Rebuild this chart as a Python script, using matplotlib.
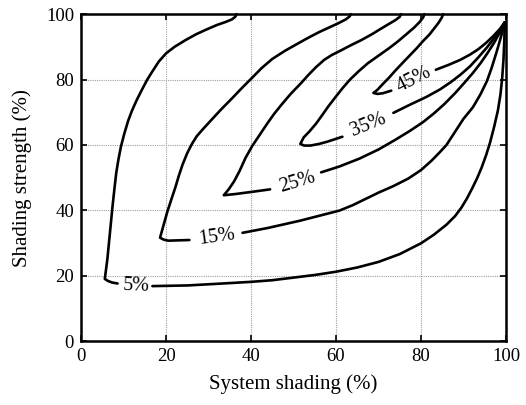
import numpy as np
import matplotlib
matplotlib.use("Agg")
import matplotlib.pyplot as plt

nan = np.nan

# Contour lines (System shading %, Shading strength %); NaN = gap for inline label
c5_x = [36.6, 36.3, 35.5, 34.0, 32.0, 29.5, 27.0, 24.5, 22.0, 20.0, 18.3, 16.8, 15.6, 14.3, 13.1, 12.0, 11.1,
        10.2, 9.4, 8.8, 8.3, 7.9, 7.4, 6.8, 6.2, 5.6, 6.3, 7.3, 8.6, nan,
        16.8, 25.0, 32.0, 40.0, 45.0, 50.0, 55.0, 60.0, 65.0, 70.0, 75.0, 80.0, 83.0, 86.0, 88.0, 89.5,
        90.8, 92.0, 93.2, 94.3, 95.3, 96.2, 97.2, 98.1, 98.7, 99.1, 99.4, 99.6, 99.7]
c5_y = [100.0, 99.2, 98.4, 97.6, 96.7, 95.3, 93.8, 92.0, 90.0, 88.0, 85.5, 82.5, 80.0, 76.8, 73.7, 70.5, 67.4,
        63.5, 59.5, 55.5, 51.5, 47.0, 41.0, 33.0, 25.0, 19.0, 18.4, 17.9, 17.6, nan,
        16.8, 17.0, 17.5, 18.1, 18.6, 19.4, 20.2, 21.2, 22.5, 24.2, 26.6, 29.9, 32.5, 35.6, 38.2, 40.8,
        43.6, 46.6, 49.8, 53.2, 56.8, 60.5, 65.5, 70.6, 75.5, 80.5, 86.0, 92.0, 97.5]

c15_x = [63.5, 63.2, 62.3, 60.5, 58.5, 56.0, 53.5, 51.0, 48.0, 45.0, 42.5, 40.3, 38.0, 35.5, 33.0, 30.5, 28.6,
         27.2, 26.1, 25.0, 23.9, 23.0, 22.2, 21.3, 20.3, 19.5, 18.6, 19.5, 20.5, 23.0, 25.5, nan,
         38.0, 44.0, 51.5, 56.0, 60.8, 64.0, 67.0, 70.0, 73.5, 77.0, 80.0, 82.5, 84.3, 86.0, 88.0, 90.0,
         92.2, 94.0, 95.5, 96.6, 97.8, 98.8, 99.7]
c15_y = [100.0, 99.3, 98.4, 97.2, 96.0, 94.5, 92.8, 91.0, 88.8, 86.3, 83.5, 80.6, 77.6, 74.2, 70.9, 67.4, 64.7,
         62.6, 60.3, 57.5, 54.0, 50.5, 47.0, 43.5, 39.5, 35.8, 31.6, 31.0, 30.7, 30.8, 30.9, nan,
         33.1, 34.6, 36.8, 38.3, 39.9, 41.6, 43.5, 45.4, 47.4, 49.7, 52.3, 55.2, 57.6, 60.0, 64.0, 68.0,
         71.5, 75.5, 79.5, 83.5, 88.5, 93.0, 97.5]

c25_x = [75.3, 75.0, 74.0, 72.3, 70.5, 68.5, 66.0, 63.5, 61.0, 59.0, 57.2, 55.3, 53.5, 51.7, 49.4, 47.3, 45.5,
         43.8, 42.0, 40.3, 38.7, 37.3, 36.0, 34.8, 33.6, 36.5, 40.0, 44.5, nan,
         56.5, 60.8, 65.5, 70.0, 74.0, 77.4, 80.5, 83.0, 85.5, 88.0, 90.2, 92.2, 94.0, 95.7, 97.3, 98.6, 99.7]
c25_y = [100.0, 99.2, 98.2, 96.9, 95.5, 93.9, 92.1, 90.5, 88.8, 87.5, 86.0, 83.8, 81.4, 78.8, 75.7, 72.5, 69.6,
         66.5, 63.0, 59.7, 56.0, 52.0, 48.8, 46.5, 44.6, 45.0, 45.6, 46.4, nan,
         51.6, 53.4, 55.8, 58.6, 61.6, 64.3, 67.0, 69.6, 72.5, 75.8, 79.0, 82.0, 85.0, 88.2, 91.5, 94.5, 97.5]

c35_x = [80.8, 80.5, 79.6, 78.3, 76.5, 74.5, 72.5, 70.0, 67.5, 65.3, 63.3, 61.5, 59.8, 58.2, 56.8, 55.3, 53.8,
         52.4, 51.6, 52.5, 54.0, 56.0, 58.0, 61.5, nan,
         73.5, 77.4, 81.3, 84.5, 87.0, 89.3, 91.5, 93.5, 95.5, 97.3, 98.7, 99.7]
c35_y = [100.0, 99.0, 97.5, 95.8, 93.8, 91.6, 89.6, 87.3, 85.0, 82.5, 80.0, 77.3, 74.5, 71.8, 69.2, 66.5, 64.2,
         62.3, 60.3, 59.8, 59.8, 60.3, 61.0, 62.5, nan,
         69.8, 72.3, 74.7, 77.0, 79.2, 81.5, 84.0, 86.8, 89.8, 92.8, 95.3, 97.5]

c45_x = [85.2, 84.9, 84.2, 83.2, 82.0, 80.5, 79.0, 77.3, 75.6, 74.0, 72.5, 71.0, 69.7, 68.8, 69.8, 71.0, 73.0, nan,
         83.5, 86.5, 89.2, 91.5, 93.5, 95.3, 97.0, 98.5, 99.7]
c45_y = [100.0, 99.0, 97.5, 95.8, 93.8, 91.8, 89.6, 87.3, 85.0, 82.8, 80.6, 78.6, 76.8, 75.9, 75.6, 75.8, 76.6, nan,
         83.0, 84.5, 86.0, 87.6, 89.3, 91.2, 93.3, 95.4, 97.5]

contours_x = [c5_x, c15_x, c25_x, c35_x, c45_x]
contours_y = [c5_y, c15_y, c25_y, c35_y, c45_y]

label_text = ["5%", "15%", "25%", "35%", "45%"]
label_x = [13.1, 31.9, 51.0, 67.6, 78.3]
label_y = [16.8, 31.9, 48.6, 66.0, 80.0]
label_rot = [-2, 8, 17, 22, 27]

x_ticks = [0, 20, 40, 60, 80, 100]
y_ticks = [0, 20, 40, 60, 80, 100]

plt.rcParams['font.family'] = ['Liberation Serif', 'DejaVu Serif']

fig = plt.figure(figsize=(5.26, 4.05), dpi=100)
ax = fig.add_axes([0.154, 0.158, 0.808, 0.807])

for xs, ys in zip(contours_x, contours_y):
    ax.plot(xs, ys, color='black', lw=1.9, solid_capstyle='round', solid_joinstyle='round', clip_on=False)

for t, x, y, r in zip(label_text, label_x, label_y, label_rot):
    ax.text(x, y, t, rotation=r, ha='center', va='center', rotation_mode='anchor',
            fontsize=14.5, color='black')

ax.set_xlim(0, 100)
ax.set_ylim(0, 100)
ax.set_xticks(x_ticks)
ax.set_yticks(y_ticks)
ax.grid(True, color='#a0a0a0', linestyle=(0, (1, 1)), linewidth=0.8)
ax.set_axisbelow(True)
ax.tick_params(direction='in', length=4, width=1.2, top=True, right=True, labelsize=13.5, pad=5)
for s in ax.spines.values():
    s.set_linewidth(1.8)
ax.set_xlabel('System shading (%)', fontsize=15, labelpad=7)
ax.set_ylabel('Shading strength (%)', fontsize=15, labelpad=10)

fig.savefig('out.png', dpi=100)
